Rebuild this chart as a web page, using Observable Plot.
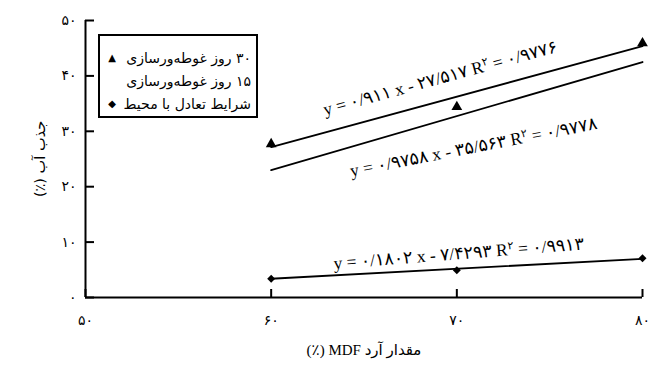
<!DOCTYPE html>
<html>
<head>
<meta charset="utf-8">
<script src="https://cdn.jsdelivr.net/npm/d3@7"></script>
<script src="https://cdn.jsdelivr.net/npm/@observablehq/plot@0.6"></script>
<style>
  body { margin: 0; background: #fff; }
  #wrap { position: relative; width: 649px; height: 367px; background: #fff; }
  #legend {
    position: absolute; left: 98px; top: 34px; width: 160px; height: 84px;
    box-sizing: border-box; border: 2px solid #000; background: #fff;
    padding: 10px 5px 0 7px; font-family: "DejaVu Sans", sans-serif; font-size: 14px; color: #000;
  }
  #legend .row { direction: rtl; display: flex; justify-content: space-between; align-items: center; height: 23px; white-space: nowrap; }
  #legend .mk { font-size: 10px; width: 10px; text-align: center; }
</style>
</head>
<body>
<div id="wrap"><div id="legend"></div></div>
<script>
// ---- data ----
const xValues = [60, 70, 80];
const days30 = [27.7, 34.4, 45.9];
const equilibrium = [3.4, 4.9, 7.1];
const seriesNames = ["۳۰ روز غوطه‌ورسازی", "۱۵ روز غوطه‌ورسازی", "شرایط تعادل با محیط"];
const legendMarkers = ["▲", "", "◆"];
const trendSlopes = [0.911, 0.9758, 0.1802];
const trendIntercepts = [-27.517, -35.563, -7.4293];
const trendRange = [60, 80];
const trendLabels = [
  "y = ۰/۹۱۱ x - ۲۷/۵۱۷ R^۲ = ۰/۹۷۷۶",
  "y = ۰/۹۷۵۸ x - ۳۵/۵۶۳ R^۲ = ۰/۹۷۷۸",
  "y = ۰/۱۸۰۲ x - ۷/۴۲۹۳ R^۲ = ۰/۹۹۱۳"
];
const xTicks = [50, 60, 70, 80];
const xTickLabels = ["۵۰", "۶۰", "۷۰", "۸۰"];
const yTicks = [0, 10, 20, 30, 40, 50];
const yTickLabels = ["۰", "۱۰", "۲۰", "۳۰", "۴۰", "۵۰"];
const xTitle = "مقدار آرد MDF (٪)";
const yTitle = "جذب آب (٪)";

// ---- tables built from the arrays ----
const pts30 = xValues.map((x, i) => ({x, y: days30[i]}));
const ptsEq = xValues.map((x, i) => ({x, y: equilibrium[i]}));
const trendRows = [];
trendSlopes.forEach((m, s) => trendRange.forEach(x => trendRows.push({s, x, y: m * x + trendIntercepts[s]})));

// label layout (positions along each fitted line)
const eqLayout = [
  {at: 69.1, dy: -23, rotate: -15.3},
  {at: 70.9, dy: 36, rotate: -11},
  {at: 70.1, dy: -15, rotate: -4.5}
];
const eqRows = trendLabels.map((label, s) => ({
  label, x: eqLayout[s].at, y: trendSlopes[s] * eqLayout[s].at + trendIntercepts[s], s
}));

const eqFont = "'Liberation Serif', 'DejaVu Sans', serif";
const uiFont = "'DejaVu Sans', sans-serif";
const rtl = s => "\u202B" + s + "\u202C";

const chart = Plot.plot({
  width: 649, height: 367,
  marginLeft: 85, marginRight: 7, marginTop: 20, marginBottom: 70,
  style: {background: "#fff", color: "#000", fontFamily: uiFont},
  x: {domain: [50, 80]},
  y: {domain: [0, 50]},
  marks: [
    Plot.axisX({ticks: xTicks, tickFormat: d => xTickLabels[xTicks.indexOf(d)], tickSize: -8, tickPadding: 26, strokeWidth: 2, fontSize: 14, label: null}),
    Plot.axisY({ticks: yTicks, tickFormat: d => yTickLabels[yTicks.indexOf(d)], tickSize: -9, tickPadding: 18, strokeWidth: 2, fontSize: 14, label: null}),
    Plot.ruleX([50], {strokeWidth: 2}),
    Plot.ruleY([0], {strokeWidth: 2}),
    ...eqLayout.map((L, s) => Plot.line(trendRows.filter(d => d.s === s), {x: "x", y: "y", stroke: "#000", strokeWidth: 1.8})),
    Plot.dot(pts30, {x: "x", y: "y", symbol: "triangle", r: 4, fill: "#000", stroke: null}),
    Plot.dot(ptsEq, {x: "x", y: "y", symbol: "diamond2", r: 3.6, fill: "#000", stroke: null}),
    ...eqRows.map((d, s) => Plot.text([d], {x: "x", y: "y", text: "label", dy: eqLayout[s].dy, rotate: eqLayout[s].rotate,
      fontSize: 17.5, fontFamily: eqFont, fill: "#000", className: "eq", textAnchor: "middle", lineAnchor: "middle"})),
    Plot.text([xTitle], {text: d => rtl(d), frameAnchor: "bottom", dy: 57, fontSize: 15, fontFamily: eqFont, fill: "#000", textAnchor: "middle"}),
    Plot.text([yTitle], {text: d => rtl(d), frameAnchor: "left", dx: -45, rotate: -90, fontSize: 14.5, fontFamily: uiFont, fill: "#000", textAnchor: "middle", lineAnchor: "middle"})
  ]
});

// superscript "۲" after R
const NS = "http://www.w3.org/2000/svg";
chart.querySelectorAll("g.eq text").forEach(t => {
  const s = t.textContent, k = s.indexOf("^");
  if (k < 0) return;
  t.textContent = "";
  const parts = [[s.slice(0, k), null, null], [s.slice(k + 1, k + 2), "-6", "11"], [s.slice(k + 2), "6", null]];
  parts.forEach(([txt, dy, fs]) => {
    const sp = document.createElementNS(NS, "tspan");
    sp.textContent = txt;
    if (dy) sp.setAttribute("dy", dy);
    if (fs) sp.setAttribute("font-size", fs);
    t.appendChild(sp);
  });
});

const wrap = document.getElementById("wrap");
wrap.insertBefore(chart, wrap.firstChild);

const legend = document.getElementById("legend");
seriesNames.forEach((name, i) => {
  const row = document.createElement("div");
  row.className = "row";
  const a = document.createElement("span"); a.textContent = name;
  const b = document.createElement("span"); b.className = "mk"; b.textContent = legendMarkers[i];
  row.appendChild(a); row.appendChild(b);
  legend.appendChild(row);
});
</script>
</body>
</html>
